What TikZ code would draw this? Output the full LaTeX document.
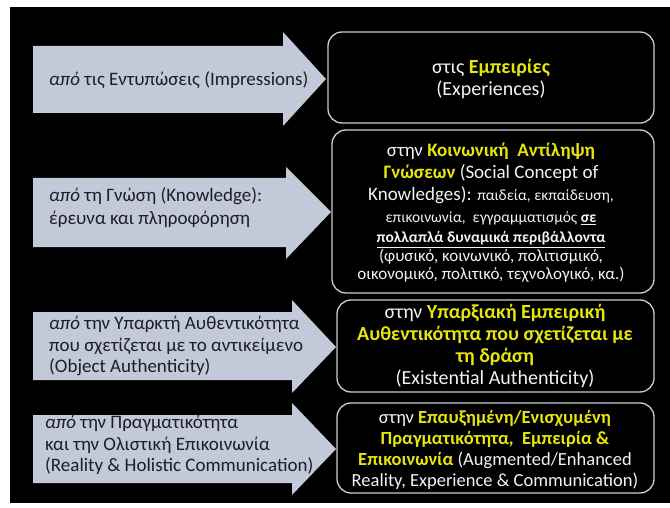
\documentclass[tikz,border=0pt]{standalone}
\usepackage{fontspec}
\setmainfont{Carlito}
\definecolor{arrowfill}{RGB}{194,201,216}
\definecolor{hl}{RGB}{230,230,10}
\definecolor{boxline}{RGB}{205,205,205}
\definecolor{txtw}{RGB}{242,242,248}
\definecolor{txtd}{RGB}{30,30,35}
\newcommand{\hlt}[1]{\textcolor{hl}{\textbf{#1}}}
\newcommand{\fs}[2]{\fontsize{#1}{#2}\selectfont}
\begin{document}
\begin{tikzpicture}[x=1pt,y=-1pt,
  blockarrow/.style={fill=arrowfill, draw=none},
  infobox/.style={draw=boxline, line width=1.3pt, rounded corners=14pt, fill=black},
  arrowtext/.style={anchor=west, align=left, text=txtd, inner sep=0pt},
  boxtext/.style={align=center, text=txtw, inner sep=0pt}]
\useasboundingbox (0,0) rectangle (670,508);
\fill[white] (0,0) rectangle (670,508);
\fill[black] (10,7) rectangle (670,503);

% block arrows
\fill[blockarrow] (33,46) -- (283,46) -- (283,32) -- (326,79) -- (283,126) -- (283,113) -- (33,113) -- cycle;
\fill[blockarrow] (33,178) -- (286,178) -- (286,167) -- (331,212) -- (286,259) -- (286,247) -- (33,247) -- cycle;
\fill[blockarrow] (33,312) -- (292,312) -- (292,300) -- (336,347) -- (292,393) -- (292,380) -- (33,380) -- cycle;
\fill[blockarrow] (33,415) -- (292,415) -- (292,403) -- (336,449) -- (292,495) -- (292,483) -- (33,483) -- cycle;

% boxes
\draw[infobox] (328,32) rectangle (654,123);
\draw[infobox] (332,130) rectangle (654,293);
\draw[infobox] (337,300) rectangle (654,392);
\draw[infobox] (337,403) rectangle (654,493);

% arrow texts
\node[arrowtext, font=\fs{19}{21.5}] (a1) at (49,80) {\textit{από} τις Εντυπώσεις (Impressions)};
\node[arrowtext, font=\fs{19}{23}] (a2) at (49,208) {\textit{από} τη Γνώση (Knowledge):\\έρευνα και πληροφόρηση};
\node[arrowtext, font=\fs{19}{21.5}] (a3) at (49,346) {\textit{από} την Υπαρκτή Αυθεντικότητα\\που σχετίζεται με το αντικείμενο\\(Object Authenticity)};
\node[arrowtext, font=\fs{19}{21.5}] (a4) at (45,445) {\textit{από} την Πραγματικότητα\\και την Ολιστική Επικοινωνία\\(Reality \& Holistic Communication)};

% box texts
\node[boxtext, font=\fs{20}{22.5}] (b1) at (491,79) {στις \hlt{Εμπειρίες}\\(Experiences)};
\node[boxtext, font=\fs{19}{22}] (b2) at (491,213) {στην \hlt{Κοινωνική\ \ Αντίληψη}\\\hlt{Γνώσεων} (Social Concept of\\Knowledges): {\fs{15.5}{20}παιδεία, εκπαίδευση,}\\{\fs{15.5}{20}επικοινωνία,\ \ εγγραμματισμός \textbf{\underline{σε}}}\\[-2pt]{\fs{15.5}{20}\textbf{\underline{πολλαπλά δυναμικά περιβάλλοντα}}}\\[-3pt]{\fs{17}{19}(φυσικό, κοινωνικό, πολιτισμικό,}\\[-4pt]{\fs{17}{19}οικονομικό, πολιτικό, τεχνολογικό, κα.)}};
\node[boxtext, font=\fs{20}{22}] (b3) at (495,346) {στην \hlt{Υπαρξιακή Εμπειρική}\\\hlt{Αυθεντικότητα που σχετίζεται με}\\\hlt{τη δράση}\\(Existential Authenticity)};
\node[boxtext, font=\fs{18.5}{20.8}] (b4) at (495,450) {στην \hlt{Επαυξημένη/Ενισχυμένη}\\\hlt{Πραγματικότητα,\ \ Εμπειρία \&}\\\hlt{Επικοινωνία} (Augmented/Enhanced\\Reality, Experience \& Communication)};
\end{tikzpicture}
\end{document}
